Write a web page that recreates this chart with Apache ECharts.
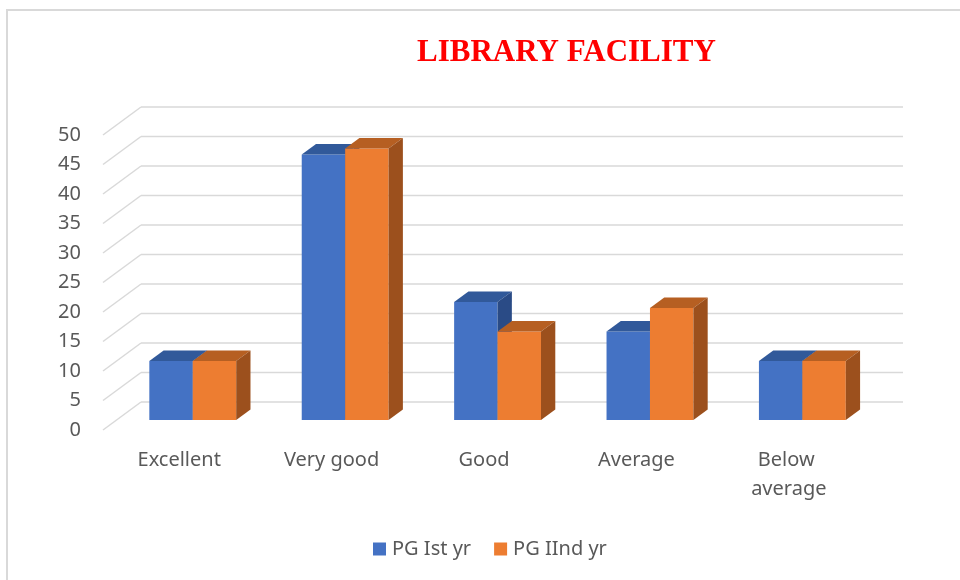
<!DOCTYPE html>
<html>
<head>
<meta charset="utf-8">
<title>LIBRARY FACILITY</title>
<script src="https://cdn.jsdelivr.net/npm/echarts@6/dist/echarts.min.js"></script>
<style>
  html, body { margin: 0; padding: 0; background: #fff; }
  #chart { width: 960px; height: 580px; }
</style>
</head>
<body>
<div id="chart"></div>
<script>
// data
var categories = ['Excellent', 'Very good', 'Good', 'Average', 'Below average'];
var pgFirst = [10, 45, 20, 15, 10];
var pgSecond = [10, 46, 15, 19, 10];
var yTicks = [0, 5, 10, 15, 20, 25, 30, 35, 40, 45, 50];

// fake 3d: back wall offset, where the bars sit and how deep they are
var DX = 38, DY = -28;
var BAR_FRONT = 0.357, BAR_DEPTH = 0.376;
var BAR_RATIO = 0.285;

var chart = echarts.init(document.getElementById('chart'));

function wallItem(params, api) {
  var v = api.value(1);
  var half = api.size([1, 0])[0] / 2;
  var left = api.coord([0, v]);
  var right = api.coord([categories.length - 1, v]);
  var xl = left[0] - half, xr = right[0] + half, y = left[1];
  var style = { stroke: '#d9d9d9', lineWidth: 1.5 };
  return {
    type: 'group',
    children: [
      { type: 'line', shape: { x1: xl, y1: y, x2: xl + DX, y2: y + DY }, style: style },
      { type: 'line', shape: { x1: xl + DX, y1: y + DY, x2: xr + DX, y2: y + DY }, style: style }
    ]
  };
}

function barSeries(name, values, slot, front, top, side) {
  return {
    name: name,
    type: 'custom',
    itemStyle: { color: front },
    data: values.map(function (v, i) { return [i, v]; }),
    renderItem: function (params, api) {
      var i = api.value(0), v = api.value(1);
      var base = api.coord([i, 0]);
      var tip = api.coord([i, v]);
      var w = api.size([1, 0])[0] * BAR_RATIO;
      var sx = DX * BAR_FRONT, sy = DY * BAR_FRONT;
      var dx = DX * BAR_DEPTH, dy = DY * BAR_DEPTH;
      var x0 = base[0] + sx - w + slot * w, x1 = x0 + w;
      var yb = base[1] + sy, yt = tip[1] + sy;
      return {
        type: 'group',
        children: [
          { type: 'rect', shape: { x: x0, y: yt, width: w, height: yb - yt }, style: { fill: front } },
          { type: 'polygon', shape: { points: [[x0, yt], [x1, yt], [x1 + dx, yt + dy], [x0 + dx, yt + dy]] }, style: { fill: top } },
          { type: 'polygon', shape: { points: [[x1, yt], [x1 + dx, yt + dy], [x1 + dx, yb + dy], [x1, yb]] }, style: { fill: side } }
        ]
      };
    }
  };
}

var option = {
  animation: false,
  backgroundColor: '#fff',
  graphic: [{
    type: 'rect',
    shape: { x: 7, y: 10, width: 1000, height: 1000 },
    style: { fill: null, stroke: '#d9d9d9', lineWidth: 2 },
    silent: true
  }],
  title: {
    text: 'LIBRARY FACILITY',
    left: 412,
    top: 32,
    textStyle: {
      fontFamily: 'Liberation Serif',
      fontWeight: 'bold',
      fontSize: 31,
      color: '#ff0000'
    }
  },
  legend: {
    data: ['PG Ist yr', 'PG IInd yr'],
    left: 368,
    top: 534,
    icon: 'rect',
    itemWidth: 13,
    itemHeight: 13,
    itemGap: 23,
    textStyle: { fontFamily: 'Noto Sans', fontSize: 20, color: '#595959', padding: [0, 0, 0, 1] }
  },
  grid: { left: 103, right: 95, top: 135, bottom: 150 },
  xAxis: {
    type: 'category',
    data: categories,
    axisLine: { show: false },
    axisTick: { show: false },
    splitLine: { show: false },
    axisLabel: {
      interval: 0,
      margin: 16,
      fontFamily: 'Noto Sans',
      fontSize: 20,
      lineHeight: 29,
      color: '#595959',
      width: 120,
      overflow: 'break'
    }
  },
  yAxis: {
    type: 'value',
    min: 0,
    max: 50,
    interval: 5,
    axisLine: { show: false },
    axisTick: { show: false },
    splitLine: { show: false },
    axisLabel: { margin: 22, fontFamily: 'Noto Sans', fontSize: 20, color: '#595959' }
  },
  series: [
    {
      type: 'custom',
      silent: true,
      data: yTicks.map(function (t) { return [0, t]; }),
      renderItem: wallItem,
      z: 1
    },
    barSeries('PG Ist yr', pgFirst, 0, '#4472c4', '#31599a', '#2a4b86'),
    barSeries('PG IInd yr', pgSecond, 1, '#ed7d31', '#b65f22', '#9c501d')
  ]
};

chart.setOption(option);
</script>
</body>
</html>
